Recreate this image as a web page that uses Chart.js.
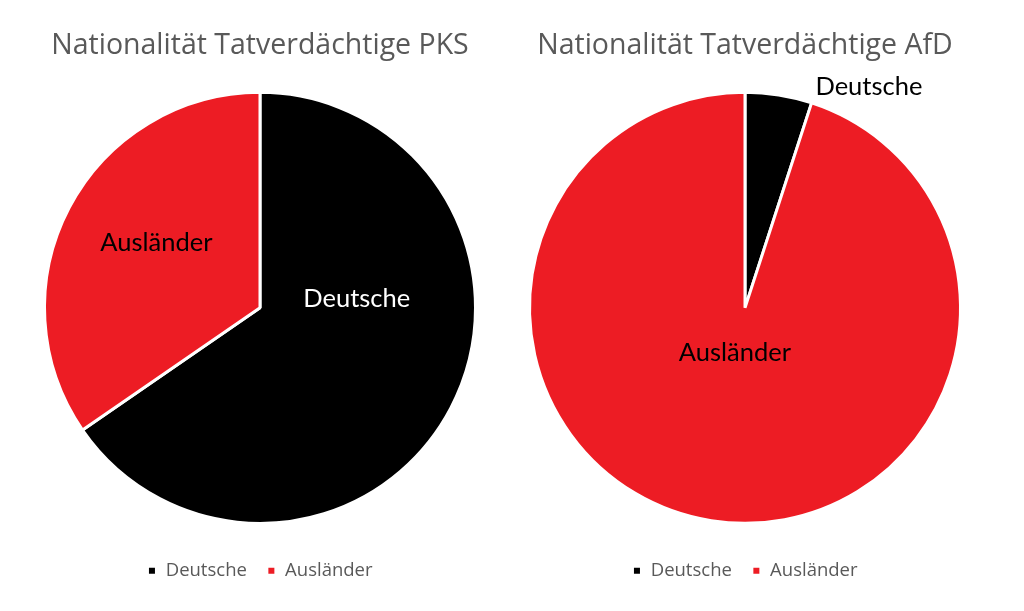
<!DOCTYPE html>
<html>
<head>
<meta charset="utf-8">
<script src="https://cdn.jsdelivr.net/npm/chart.js@4"></script>
<style>
  html, body { margin: 0; padding: 0; background: #fff; }
  body { width: 1024px; height: 611px; position: relative; overflow: hidden; }
  .box { position: absolute; top: 0; width: 480px; height: 611px; }
  #b1 { left: 20px; }
  #b2 { left: 505px; }
</style>
</head>
<body>
<div class="box" id="b1"><canvas id="c1"></canvas></div>
<div class="box" id="b2"><canvas id="c2"></canvas></div>
<script>
const categories = ['Deutsche', 'Ausländer'];
const titlePKS = 'Nationalität Tatverdächtige PKS';
const titleAfD = 'Nationalität Tatverdächtige AfD';
const valuesPKS = [65.4, 34.6];
const valuesAfD = [5, 95];
const sliceColors = ['#000000', '#ED1C24'];

// label placement relative to pie centre, in units of the radius (style, not data)
const labelPlacePKS = [{dx: 0.449, dy: -0.042, color: '#ffffff'}, {dx: -0.481, dy: -0.304, color: '#000000'}];
const labelPlaceAfD = [{dx: 0.575, dy: -1.028, color: '#000000'}, {dx: -0.047, dy: 0.21, color: '#000000'}];

const LABEL_FONT = '25.5px Lato, "Open Sans", sans-serif';

const sliceLabels = {
  id: 'sliceLabels',
  afterDatasetsDraw(chart, args, opts) {
    const meta = chart.getDatasetMeta(0);
    const ctx = chart.ctx;
    ctx.save();
    ctx.font = LABEL_FONT;
    ctx.textAlign = 'center';
    ctx.textBaseline = 'middle';
    meta.data.forEach((arc, i) => {
      const p = opts.places[i];
      const r = arc.outerRadius;
      ctx.fillStyle = p.color;
      ctx.fillText(chart.data.labels[i], arc.x + p.dx * r, arc.y + p.dy * r);
    });
    ctx.restore();
  }
};

function makePie(id, title, values, places) {
  return new Chart(document.getElementById(id), {
    type: 'pie',
    data: {
      labels: categories,
      datasets: [{
        data: values,
        backgroundColor: sliceColors,
        borderColor: '#ffffff',
        borderWidth: 3,
        hoverOffset: 0
      }]
    },
    options: {
      responsive: true,
      maintainAspectRatio: false,
      animation: false,
      events: [],
      layout: { padding: { left: 23, right: 23, top: 0, bottom: 21 } },
      plugins: {
        title: {
          display: true,
          text: title,
          color: '#595959',
          font: { family: '"Open Sans", sans-serif', size: 28.5, weight: 'normal', lineHeight: 1.2 },
          padding: { top: 29, bottom: 11 }
        },
        legend: {
          display: true,
          position: 'bottom',
          labels: {
            color: '#595959',
            font: { family: '"Open Sans", sans-serif', size: 18.5 },
            usePointStyle: true,
            pointStyle: 'rect',
            boxWidth: 9,
            boxHeight: 9,
            padding: 20
          }
        },
        tooltip: { enabled: false },
        sliceLabels: { places: places }
      }
    },
    plugins: [sliceLabels]
  });
}

makePie('c1', titlePKS, valuesPKS, labelPlacePKS);
makePie('c2', titleAfD, valuesAfD, labelPlaceAfD);
</script>
</body>
</html>
